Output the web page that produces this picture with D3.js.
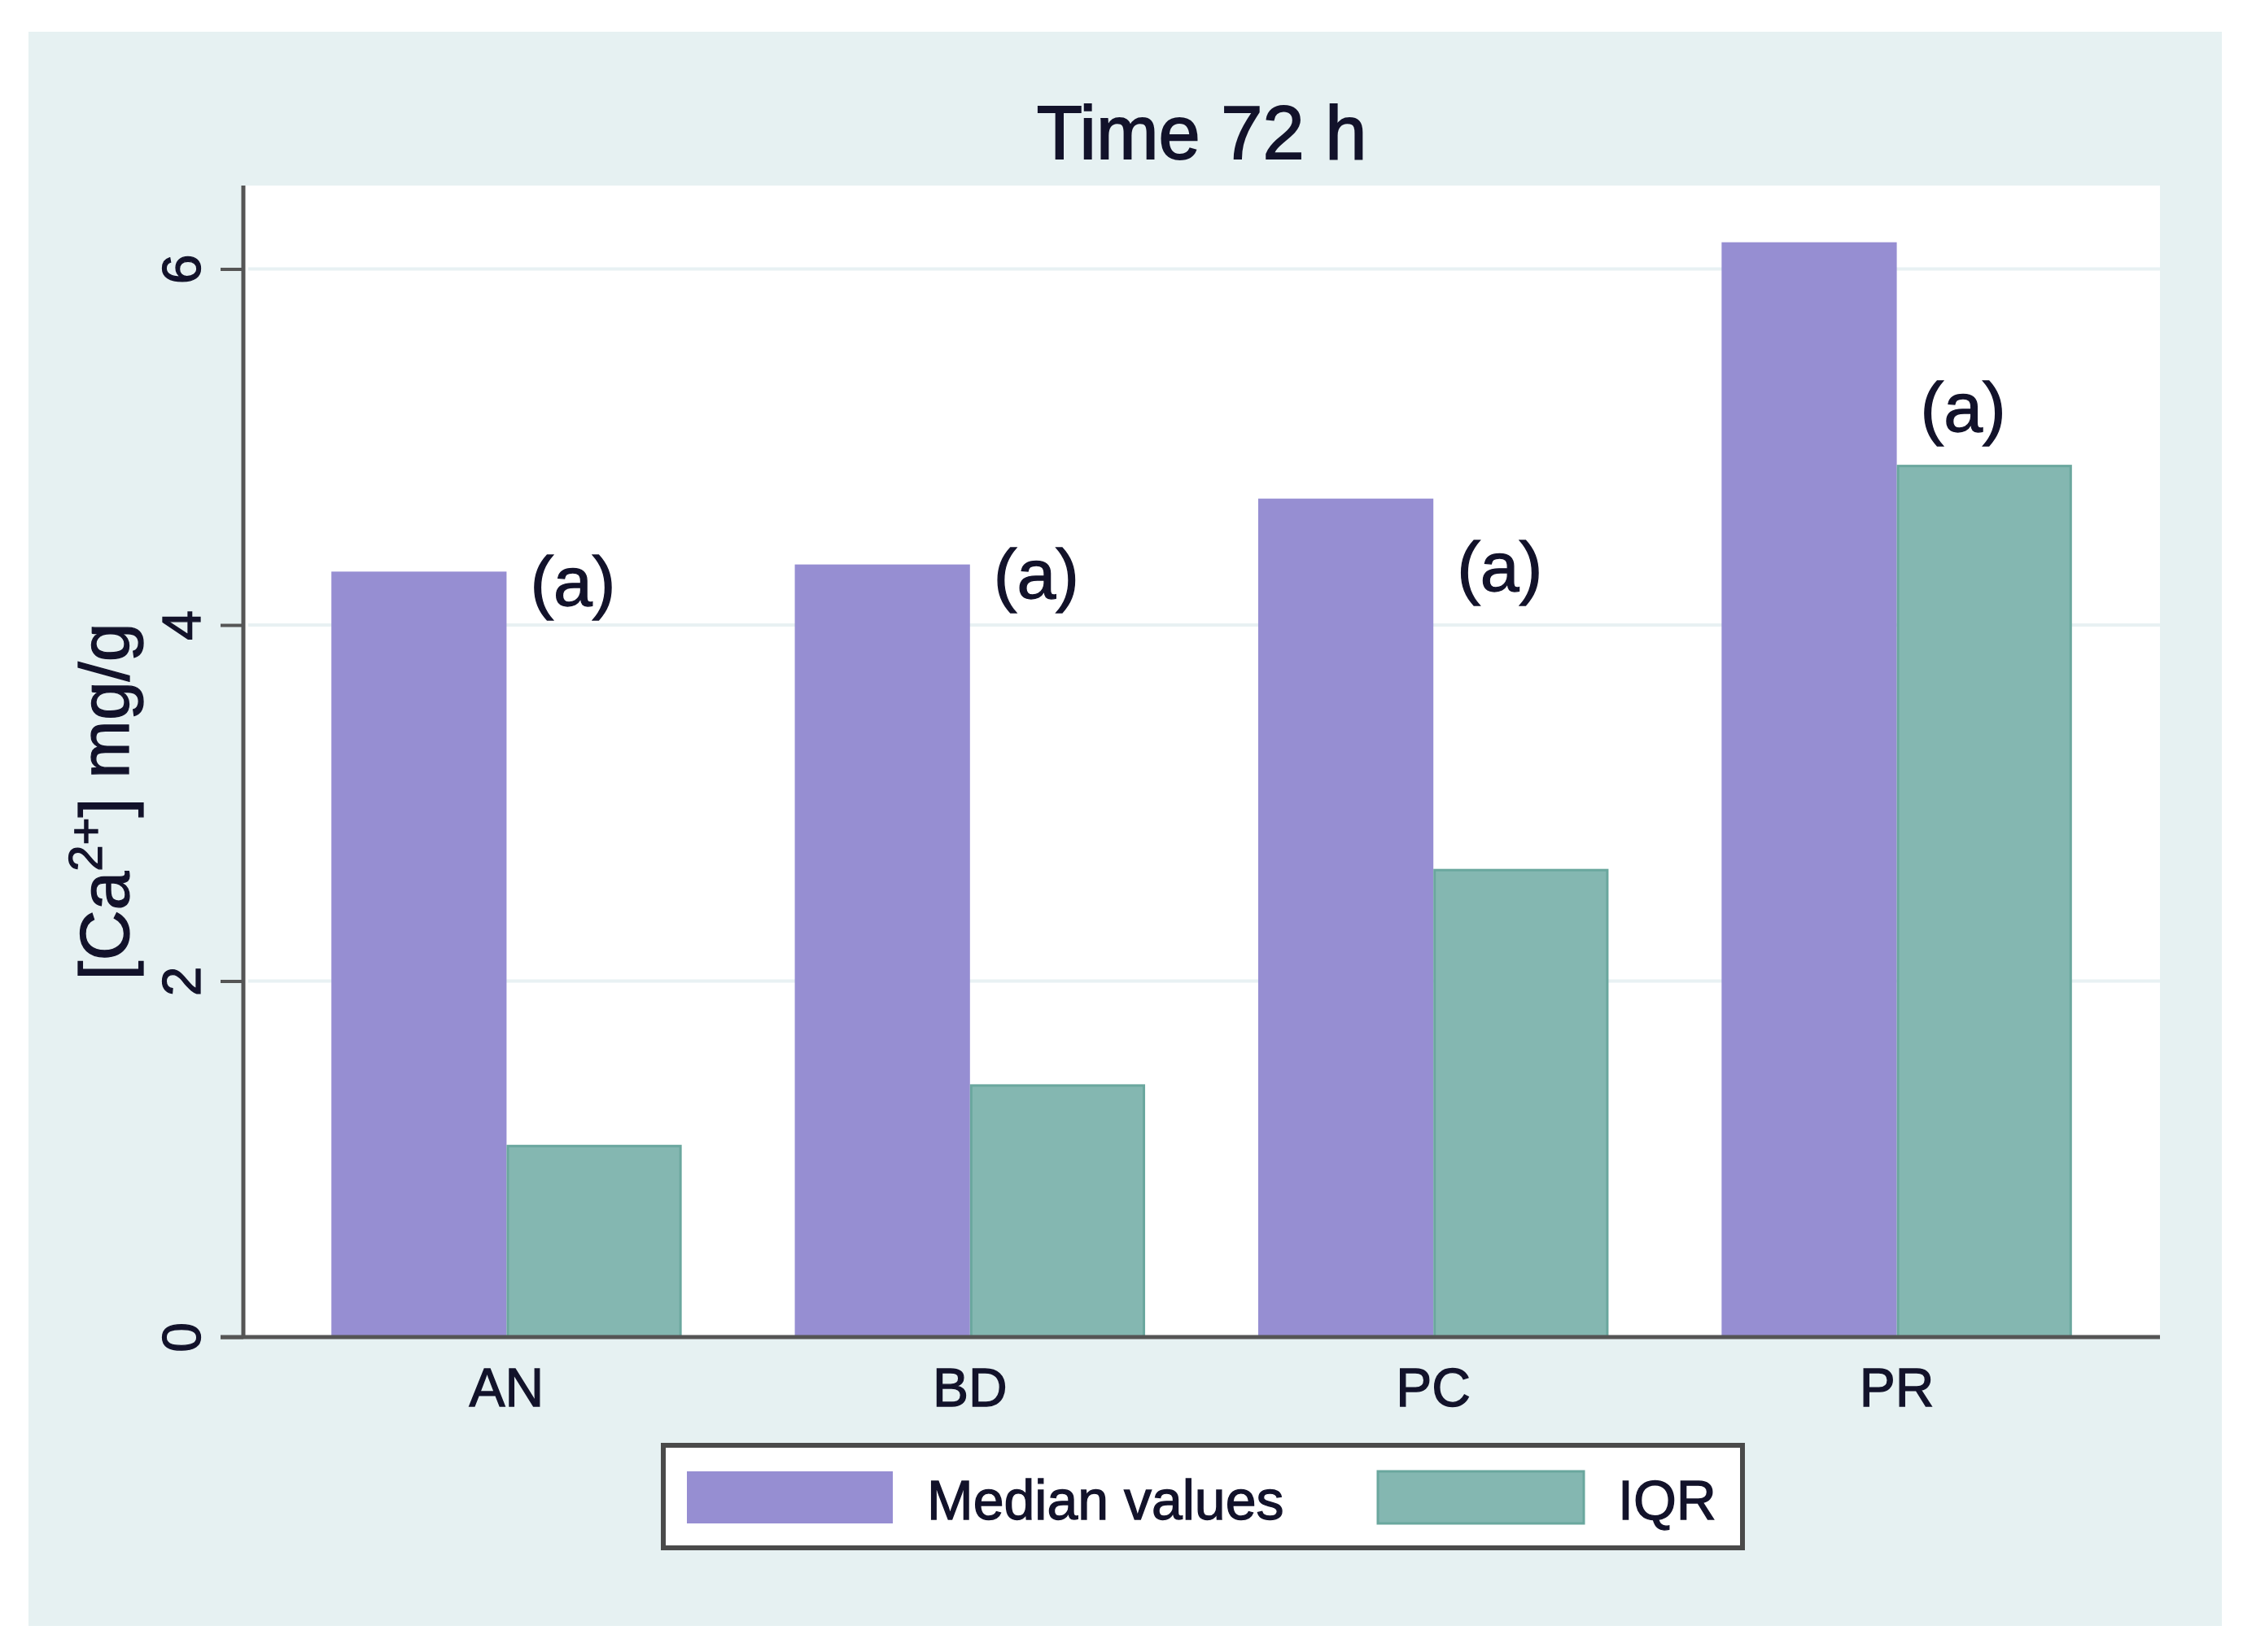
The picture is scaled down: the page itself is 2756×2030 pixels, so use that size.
<!DOCTYPE html>
<html>
<head>
<meta charset="utf-8">
<script src="https://cdn.jsdelivr.net/npm/d3@7"></script>
<style>
  html, body { margin: 0; padding: 0; background: #ffffff; }
  svg { display: block; }
  text { font-family: "Liberation Sans", Arial, Helvetica, sans-serif; }
</style>
</head>
<body>
<script>
// ---- data ----
const categories = ["AN", "BD", "PC", "PR"];
const seriesNames = ["Median values", "IQR"];
const medianValues = [4.30, 4.34, 4.71, 6.15];
const iqrValues = [1.08, 1.42, 2.63, 4.90];
const letterLabels = ["(a)", "(a)", "(a)", "(a)"];
const letterLabelY = [4.22, 4.26, 4.30, 5.20];
const yTicks = [0, 2, 4, 6];
const titleText = "Time 72 h";

// ---- layout ----
const W = 2756, H = 2030;
const plot = { left: 299, right: 2654, top: 228, bottom: 1643 };
const colors = { median: "#968ed2", iqr: "#84b7b1", iqrEdge: "#6aa79e", panel: "#e6f1f2", grid: "#e8f1f3", axis: "#555555", text: "#12122a" };
const thicken = sel => sel.attr("stroke", colors.text).attr("stroke-width", 1.3).attr("paint-order", "stroke");

const svg = d3.select("body").append("svg").attr("width", W).attr("height", H);

// outer panel
svg.append("rect").attr("x", 35).attr("y", 39).attr("width", 2730 - 35).attr("height", 1998 - 39).attr("fill", colors.panel);

// plot region
svg.append("rect").attr("x", plot.left).attr("y", plot.top)
  .attr("width", plot.right - plot.left).attr("height", plot.bottom - plot.top).attr("fill", "#ffffff");

// scales
const y = d3.scaleLinear().domain([0, 6]).range([plot.bottom, plot.bottom - 6 * 218.75]);
const x0 = d3.scaleBand().domain(categories).range([plot.left, plot.right]).paddingInner(0.244).paddingOuter(0.19);
const x1 = d3.scaleBand().domain(seriesNames).range([0, x0.bandwidth()]).padding(0);

// gridlines
svg.append("g").selectAll("line").data(yTicks.filter(d => d > 0)).join("line")
  .attr("x1", plot.left + 6).attr("x2", plot.right)
  .attr("y1", d => y(d)).attr("y2", d => y(d))
  .attr("stroke", colors.grid).attr("stroke-width", 4);

// bars
const rows = categories.map((c, i) => ({ cat: c, vals: [medianValues[i], iqrValues[i]] }));
const g = svg.append("g");
rows.forEach(r => {
  g.append("rect")
    .attr("x", x0(r.cat) + x1(seriesNames[0]))
    .attr("y", y(r.vals[0]))
    .attr("width", x1.bandwidth())
    .attr("height", y(0) - y(r.vals[0]))
    .attr("fill", colors.median);
  g.append("rect")
    .attr("x", x0(r.cat) + x1(seriesNames[1]) + 1.5)
    .attr("y", y(r.vals[1]) + 1.5)
    .attr("width", x1.bandwidth() - 3)
    .attr("height", y(0) - y(r.vals[1]) - 1.5)
    .attr("fill", colors.iqr)
    .attr("stroke", colors.iqrEdge).attr("stroke-width", 3);
});

// letter labels
svg.append("g").selectAll("text").data(categories).join("text")
  .attr("x", (d) => x0(d) + x1(seriesNames[1]) + 29)
  .attr("y", (d, i) => y(letterLabelY[i]) + 24)
  .attr("font-size", 86).attr("fill", colors.text)
  .call(thicken)
  .text((d, i) => letterLabels[i]);

// y axis
const yAxis = d3.axisLeft(y).tickValues(yTicks).tickSize(28).tickPadding(24).tickFormat(d3.format("d"));
const ya = svg.append("g").attr("transform", `translate(${plot.left},0)`).call(yAxis);
ya.select(".domain").remove();
ya.selectAll(".tick line").attr("stroke", colors.axis).attr("stroke-width", 4);
ya.selectAll(".tick text")
  .attr("font-size", 66).attr("fill", colors.text)
  .attr("font-family", "Liberation Sans, Arial, sans-serif")
  .attr("text-anchor", "middle")
  .attr("x", 0).attr("y", 0).attr("dy", "0.36em")
  .attr("transform", `translate(-77,0) rotate(-90)`)
  .call(thicken);
svg.append("line").attr("x1", plot.left).attr("x2", plot.left).attr("y1", plot.top).attr("y2", plot.bottom + 2)
  .attr("stroke", colors.axis).attr("stroke-width", 5);

// x axis
const xAxis = d3.axisBottom(x0).tickSize(0).tickPadding(38);
const xa = svg.append("g").attr("transform", `translate(0,${plot.bottom})`).call(xAxis);
xa.select(".domain").remove();
xa.selectAll(".tick text").attr("font-size", 66).attr("fill", colors.text)
  .attr("font-family", "Liberation Sans, Arial, sans-serif").attr("dy", "0.71em")
  .call(thicken);
svg.append("line").attr("x1", plot.left - 28).attr("x2", plot.right).attr("y1", plot.bottom).attr("y2", plot.bottom)
  .attr("stroke", colors.axis).attr("stroke-width", 5);

// title
svg.append("text").attr("x", (plot.left + plot.right) / 2).attr("y", 195)
  .attr("text-anchor", "middle").attr("font-size", 92).attr("fill", colors.text)
  .call(thicken).attr("stroke-width", 1.8).text(titleText);

// y axis title
const yt = svg.append("text").attr("transform", "translate(158,985) rotate(-90)")
  .attr("text-anchor", "middle").attr("font-size", 86).attr("fill", colors.text).call(thicken);
yt.append("tspan").text("[Ca");
yt.append("tspan").attr("font-size", 58).attr("dy", -33).text("2+");
yt.append("tspan").attr("dy", 33).text("] mg/g");

// legend
const lg = svg.append("g");
lg.append("rect").attr("x", 815).attr("y", 1776).attr("width", 2141 - 815).attr("height", 1902 - 1776)
  .attr("fill", "#ffffff").attr("stroke", "#4a4a4a").attr("stroke-width", 6);
const legendItems = [
  { name: seriesNames[0], fill: colors.median, stroke: "none", sx: 844, tx: 1139 },
  { name: seriesNames[1], fill: colors.iqr, stroke: colors.iqrEdge, sx: 1693, tx: 1988 }
];
legendItems.forEach(it => {
  lg.append("rect").attr("x", it.sx).attr("y", 1808).attr("width", 253).attr("height", 64)
    .attr("fill", it.fill).attr("stroke", it.stroke).attr("stroke-width", 3);
  lg.append("text").attr("x", it.tx).attr("y", 1867).attr("font-size", 68).attr("fill", colors.text)
    .call(thicken).text(it.name);
});
</script>
</body>
</html>
